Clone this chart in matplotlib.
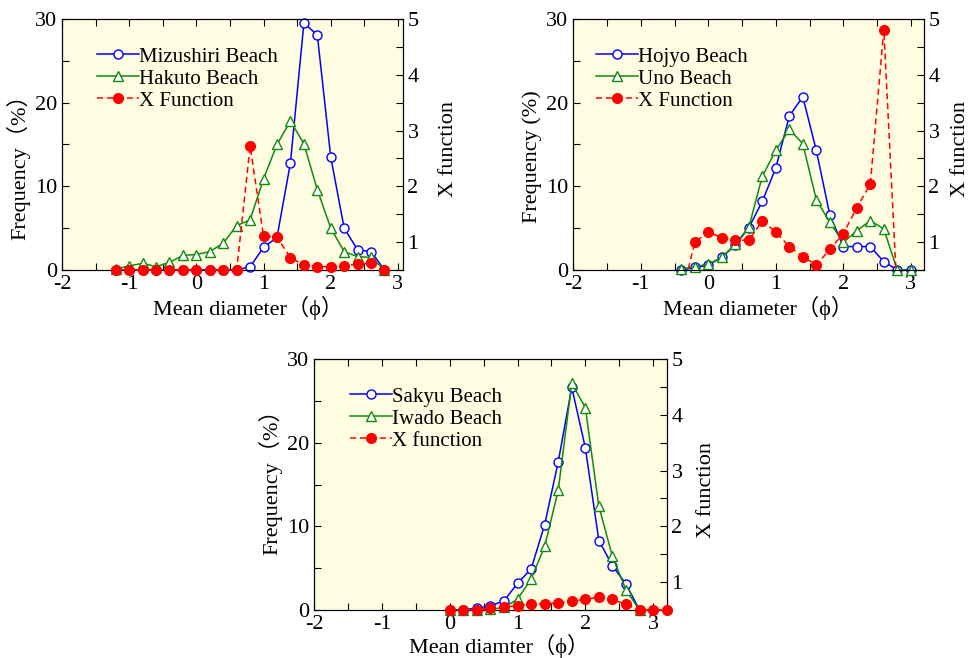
import matplotlib
matplotlib.use("Agg")
import matplotlib.pyplot as plt
from matplotlib.ticker import MultipleLocator

plt.rcParams['font.family'] = ['Liberation Serif', 'Noto Sans CJK JP', 'DejaVu Serif', 'DejaVu Sans']
plt.rcParams['font.size'] = 16
plt.rcParams['axes.unicode_minus'] = False

# ---- Panel 1 data ----
x1 = [-1.2, -1.0, -0.8, -0.6, -0.4, -0.2, 0.0, 0.2, 0.4, 0.6, 0.8, 1.0, 1.2, 1.4, 1.6, 1.8, 2.0, 2.2, 2.4, 2.6, 2.8]
mizushiri = [0, 0, 0, 0, 0, 0, 0, 0, 0, 0, 0.4, 2.7, 3.9, 12.8, 29.5, 28.1, 13.5, 5.0, 2.4, 2.2, 0]
hakuto = [0.1, 0.5, 0.8, 0.4, 0.9, 1.75, 1.85, 2.2, 3.2, 5.3, 6.0, 10.9, 15.0, 17.8, 15.1, 9.6, 5.0, 2.2, 1.6, 1.5, 0]
xfunc1 = [0.5, 0.5, 0.5, 0.5, 0.5, 0.5, 0.5, 0.5, 0.5, 0.5, 2.72, 1.11, 1.09, 0.72, 0.59, 0.56, 0.56, 0.57, 0.61, 0.62, 0.5]

# ---- Panel 2 data ----
x2 = [-0.4, -0.2, 0.0, 0.2, 0.4, 0.6, 0.8, 1.0, 1.2, 1.4, 1.6, 1.8, 2.0, 2.2, 2.4, 2.6, 2.8, 3.0]
hojyo = [0, 0.3, 0.6, 1.5, 3.0, 5.05, 8.2, 12.2, 18.4, 20.7, 14.3, 6.6, 2.8, 2.8, 2.8, 1.0, 0, 0]
uno = [0.1, 0.4, 0.7, 1.5, 3.1, 5.1, 11.2, 14.3, 16.8, 15.1, 8.4, 5.7, 3.3, 4.7, 5.9, 4.9, 0, 0]
xfunc2 = [0.0, 1.0, 1.18, 1.08, 1.04, 1.03, 1.38, 1.18, 0.92, 0.74, 0.59, 0.87, 1.15, 1.62, 2.04, 4.81, 0.0, 0.0]

# ---- Panel 3 data ----
x3 = [0.0, 0.2, 0.4, 0.6, 0.8, 1.0, 1.2, 1.4, 1.6, 1.8, 2.0, 2.2, 2.4, 2.6, 2.8]
sakyu = [0, 0.05, 0.2, 0.5, 1.1, 3.2, 4.9, 10.2, 17.7, 26.6, 19.4, 8.3, 5.3, 3.1, 0]
iwado = [0, 0, 0, 0.1, 0.3, 1.3, 3.7, 7.6, 14.3, 27.1, 24.2, 12.4, 6.4, 2.4, 0]
x3f = [0.0, 0.2, 0.4, 0.6, 0.8, 1.0, 1.2, 1.4, 1.6, 1.8, 2.0, 2.2, 2.4, 2.6, 2.8, 3.0, 3.2]
xfunc3 = [0.5, 0.5, 0.5, 0.54, 0.56, 0.57, 0.61, 0.61, 0.63, 0.66, 0.69, 0.73, 0.69, 0.60, 0.5, 0.5, 0.5]

W, H = 969, 658
fig = plt.figure(figsize=(W / 100, H / 100), dpi=100)

BG = '#fffde1'
BLUE = '#0000ff'
GREEN = '#108a10'
RED = '#ff0000'
PHI = '\u03d5'


def px_axes(left, top, right, bottom):
    return fig.add_axes([left / W, 1 - bottom / H, (right - left) / W, (bottom - top) / H])


def style(ax, xmax):
    ax.set_facecolor(BG)
    ax.set_xlim(-2, xmax)
    ax.set_ylim(0, 30)
    ax.xaxis.set_major_locator(MultipleLocator(1))
    ax.xaxis.set_minor_locator(MultipleLocator(0.5))
    ax.yaxis.set_major_locator(MultipleLocator(10))
    ax.yaxis.set_minor_locator(MultipleLocator(5))
    ax.tick_params(which='both', direction='in', top=True, right=False, labelsize=16)
    ax.tick_params(axis='x', pad=3.5)
    ax.tick_params(axis='y', pad=3.5)
    ax.tick_params(which='both', length=5, width=0.8)


def style2(ax2):
    ax2.set_ylim(0.5, 5)
    ax2.yaxis.set_major_locator(MultipleLocator(1))
    ax2.yaxis.set_minor_locator(MultipleLocator(0.5))
    ax2.tick_params(which='both', direction='in', labelsize=16, pad=3)
    ax2.tick_params(which='both', length=5, width=0.8)


def panel(box, xmax, xa, s1, n1, s2, n2, xf, sf, nf, xlabel, ylabel, xlab_pos, ylab_pos, rlab_pos,
          leg_pos, clip_red=False):
    ax = px_axes(*box)
    style(ax, xmax)
    l1, = ax.plot(xa, s1, '-', color=BLUE, lw=1.1, marker='o', ms=6.5, mfc='white', mec=BLUE,
                  mew=1.0, clip_on=False, zorder=3, label=n1)
    l2, = ax.plot(xa, s2, '-', color=GREEN, lw=1.1, marker='^', ms=7.5, mfc='white', mec=GREEN,
                  mew=1.0, clip_on=False, zorder=3, label=n2)
    ax2 = ax.twinx()
    style2(ax2)
    l3, = ax2.plot(xf, sf, '--', color=RED, lw=1.1, marker='o', ms=7, mfc=RED, mec=RED,
                   dashes=(4, 2.5), clip_on=clip_red, zorder=3, label=nf)
    ax.set_xlabel(xlabel, va='center', ha='center', fontsize=16)
    ax.xaxis.set_label_coords(*xlab_pos)
    ax.set_ylabel(ylabel, va='center', ha='center', fontsize=16)
    ax.yaxis.set_label_coords(*ylab_pos)
    ax2.set_ylabel('X function', va='center', ha='center', fontsize=16)
    ax2.yaxis.set_label_coords(*rlab_pos)
    ax2.legend(handles=[l1, l2, l3], loc='upper left', bbox_to_anchor=leg_pos, frameon=False,
               handlelength=2.0, handletextpad=0.0, labelspacing=0.12, borderpad=0,
               borderaxespad=0, fontsize=15)
    return ax, ax2


# Panel 1: axes px box (left, top, right, bottom)
b1 = (62, 19, 403.3, 270)
panel(b1, 3.08, x1, mizushiri, 'Mizushiri Beach', hakuto, 'Hakuto Beach', x1, xfunc1, 'X Function',
      'Mean diameter（' + PHI + '）', 'Frequency（%）',
      ((248 - 62) / 341.3, -(308 - 270) / 251),
      ((18 - 62) / 341.3, (270 - 162) / 251),
      ((448 - 62) / 341.3, (270 - 149) / 251),
      ((97 - 62) / 341.3, 1 - (47 - 19) / 251))

# Panel 2
b2 = (573.3, 19, 924.3, 270)
panel(b2, 3.2, x2, hojyo, 'Hojyo Beach', uno, 'Uno Beach', x2, xfunc2, 'X Function',
      'Mean diameter（' + PHI + '）', 'Frequency (%)',
      ((758.5 - 573.3) / 351, -(308 - 270) / 251),
      ((532 - 573.3) / 351, (270 - 157) / 251),
      ((960.7 - 573.3) / 351, (270 - 149) / 251),
      ((596 - 573.3) / 351, 1 - (47 - 19) / 251), clip_red=True)

# Panel 3
b3 = (314.3, 359, 667.3, 610)
panel(b3, 3.21, x3, sakyu, 'Sakyu Beach', iwado, 'Iwado Beach', x3f, xfunc3, 'X function',
      'Mean diamter（' + PHI + '）', 'Frequency（%）',
      ((499 - 314.3) / 353, -(646 - 610) / 251),
      ((270 - 314.3) / 353, (610 - 476.5) / 251),
      ((707 - 314.3) / 353, (610 - 490) / 251),
      ((350 - 314.3) / 353, 1 - (387 - 359) / 251))

fig.savefig('out.png', dpi=100)
